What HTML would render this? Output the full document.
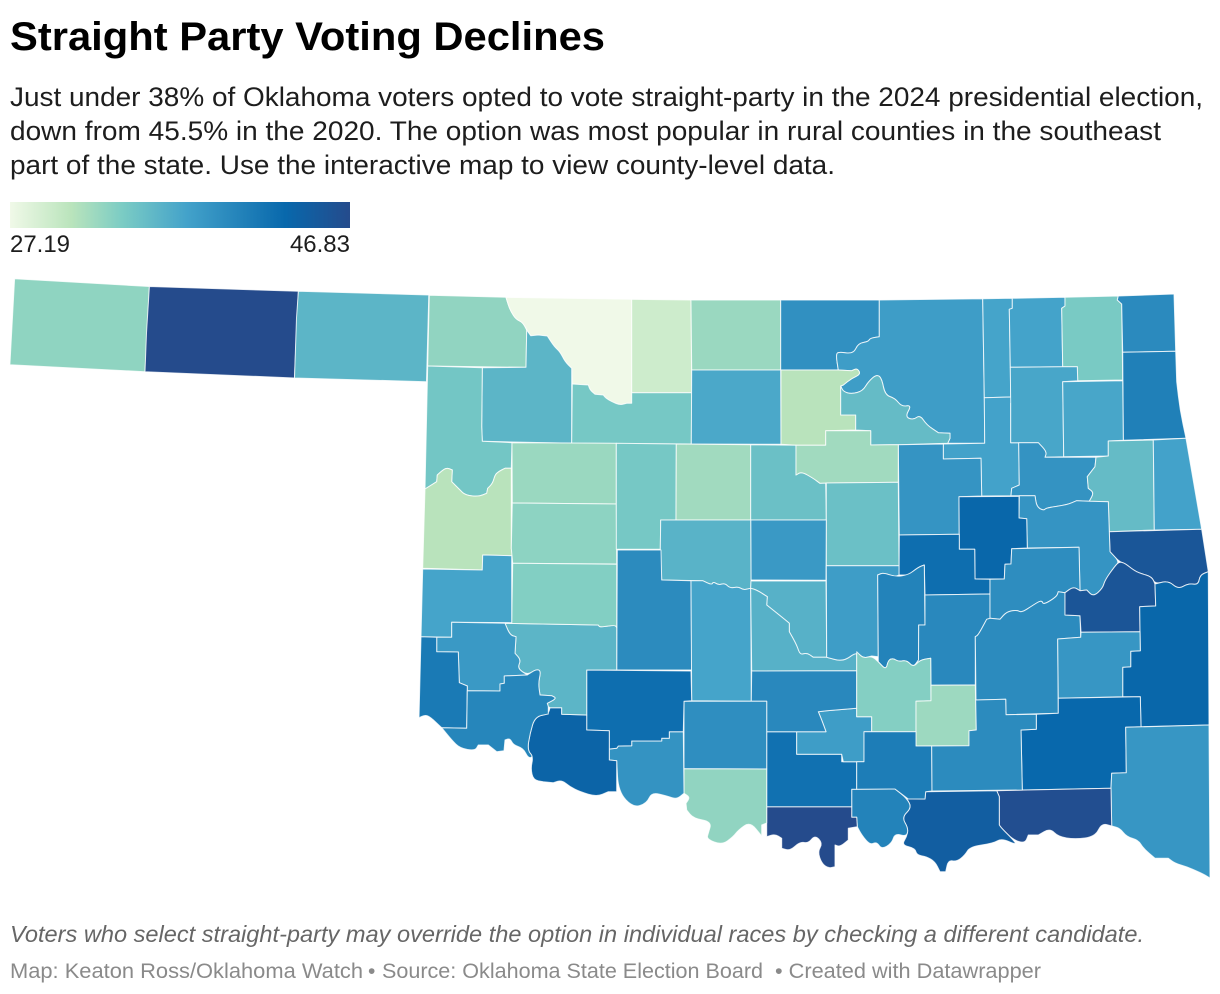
<!DOCTYPE html>
<html lang="en">
<head>
<meta charset="utf-8">
<title>Straight Party Voting Declines</title>
<style>
html,body{margin:0;padding:0;background:#fff;}
#chart{display:block;width:1220px;height:994px;font-family:"Liberation Sans",sans-serif;}
</style>
</head>
<body>
<svg id="chart" xmlns="http://www.w3.org/2000/svg" width="1220" height="994" viewBox="0 0 1220 994">
  <rect x="0" y="0" width="1220" height="994" fill="#ffffff"/>
  <text x="10" y="50" font-size="40" font-weight="700" fill="#000000" textLength="595" lengthAdjust="spacingAndGlyphs">Straight Party Voting Declines</text>
  <text x="10" y="106" font-size="26.5" fill="#1d1d1d" textLength="1193" lengthAdjust="spacingAndGlyphs">Just under 38% of Oklahoma voters opted to vote straight-party in the 2024 presidential election,</text>
  <text x="10" y="140" font-size="26.5" fill="#1d1d1d" textLength="1151" lengthAdjust="spacingAndGlyphs">down from 45.5% in the 2020. The option was most popular in rural counties in the southeast</text>
  <text x="10" y="174" font-size="26.5" fill="#1d1d1d" textLength="825" lengthAdjust="spacingAndGlyphs">part of the state. Use the interactive map to view county-level data.</text>

  <defs><linearGradient id="legend-gradient" x1="0" x2="1" y1="0" y2="0"></linearGradient></defs>
  <rect x="10" y="202" width="340" height="26" fill="url(#legend-gradient)"/>
  <text id="legend-min" x="10" y="252" font-size="24" fill="#1d1d1d" textLength="60" lengthAdjust="spacingAndGlyphs"></text>
  <text id="legend-max" x="350" y="252" font-size="24" fill="#1d1d1d" text-anchor="end"></text>

  <g id="counties"></g>

  <text x="10" y="942" font-size="23" font-style="italic" fill="#666666" textLength="1134" lengthAdjust="spacingAndGlyphs">Voters who select straight-party may override the option in individual races by checking a different candidate.</text>
  <text x="10" y="978" font-size="21" fill="#8a8a8a" textLength="353" lengthAdjust="spacingAndGlyphs">Map: Keaton Ross/Oklahoma Watch</text>
  <text x="368" y="978" font-size="21" fill="#8a8a8a">•</text>
  <text x="382" y="978" font-size="21" fill="#8a8a8a" textLength="381" lengthAdjust="spacingAndGlyphs">Source: Oklahoma State Election Board</text>
  <text x="775" y="978" font-size="21" fill="#8a8a8a" textLength="266" lengthAdjust="spacingAndGlyphs">• Created with Datawrapper</text>
</svg>
<script>
// --- Data ---
const countyNames = ["Cimarron","Texas","Beaver","Harper","Woods","Alfalfa","Grant","Kay","Osage","Washington","Nowata","Craig","Ottawa","Delaware","Woodward","Major","Garfield","Noble","Pawnee","Tulsa","Rogers","Mayes","Wagoner","Cherokee","Adair","Sequoyah","Muskogee","Creek","Okmulgee","Okfuskee","Ellis","Roger Mills","Dewey","Custer","Blaine","Kingfisher","Logan","Payne","Lincoln","Oklahoma","Canadian","Caddo","Grady","Cleveland","McClain","Pottawatomie","Seminole","Hughes","McIntosh","Pittsburg","Haskell","Le Flore","Latimer","Pushmataha","McCurtain","Choctaw","Bryan","Marshall","Love","Carter","Murray","Garvin","Stephens","Jefferson","Cotton","Comanche","Tillman","Kiowa","Washita","Beckham","Greer","Harmon","Jackson","Pontotoc","Coal","Johnston","Atoka"];
const straightPartyPct = [32.74,46.83,35.72,32.66,27.19,29.45,32.21,39.18,37.88,37.24,37.33,33.82,39.76,40.78,35.72,34.01,36.86,30.79,35.15,37.44,37.05,37.05,38.89,35.15,37.44,45.38,38.75,38.75,43.29,42.52,34.2,30.79,32.21,32.81,34.01,31.91,34.77,31.91,34.77,38.31,35.91,39.62,37.24,36.1,36.1,37.88,40.49,39.91,39.47,39.62,45.5,43.29,38.6,43.09,38.6,46.42,44.43,40.49,46.83,42.23,37.88,39.91,39.33,32.66,38.89,42.52,43.67,35.72,33.34,37.24,38.31,41.36,40.2,33.26,32.06,41.07,39.62];
const legendTickValues = [27.19, 46.83];
const rampColors = ["#f0f9e8","#bae4bc","#7bccc4","#43a2ca","#0868ac","#254b8c"];
const rampPositions = [0, 0.18, 0.33, 0.52, 0.81, 1];

// County outlines (map geometry), same order as countyNames
const countyOutlines = [
"14.6,278.7 149.4,286.5 145,371.7 9.9,364.7",
"149.4,286.5 298.4,291.3 297,318 294.5,378 145,371.7 146.5,333",
"298.4,291.3 428.8,295 426.5,381.7 294.5,378 296.5,318",
"429.3,295.3 506,297.3 508.3,305 511,311.7 516,319.3 522.7,322.3 526.7,330 526,367.3 427.7,366",
"506,297.3 631.7,299.3 631.7,403.3 626.7,403.3 620,405 611.7,401.7 606,398.3 603.3,395 595,394.3 590,390 588.3,385 572.3,384 571.7,368.3 565,361.7 560,351.7 554.3,346.7 547.3,336 538.3,335 530.7,335.7 526.7,330 522.7,322.3 516,319.3 511,311.7 508.3,305",
"631.7,299.3 691,300 691.7,392.7 631.7,392.7",
"691,300 780.7,300 780.7,370 691.7,370",
"780.7,300 879.3,300 879.3,336.7 870,338.3 868.3,341.7 858.3,343.3 853.3,354 838.3,351.7 836,355 838.3,370 780.7,370",
"879.3,300 982.7,298.7 984.3,397.7 984.7,443.3 947.7,443.3 950,438.3 950,433.3 938.3,432.7 926.7,425 920,415 913.3,420 905,416.7 911.7,405 901.7,406.7 895,398.3 885,395 881.7,378.3 876.7,374.3 868.3,381.7 862.7,391 851.7,394 843.3,391.7 840.7,386 843.3,385 851.7,378.3 860.7,374.3 857.3,368.3 851.7,370.7 838.3,370 836,355 838.3,351.7 853.3,354 858.3,343.3 868.3,341.7 870,338.3 879.3,336.7",
"982.7,298.7 1012.3,298.3 1012.3,308.3 1009.3,309.3 1010.3,367.3 1010.7,397 984.3,397.7",
"1012.3,298.3 1065,297.3 1065,306 1061.7,308.3 1062.7,366.7 1010.3,367.3 1009.3,309.3 1012.3,308.3",
"1065,297.3 1118.3,296 1117.3,300 1121.7,304 1122.7,380 1077.7,380.7 1077.3,366.7 1062.7,366.7 1061.7,308.3 1065,306",
"1118.3,296 1174,294 1175.7,351.3 1122.7,352.3 1121.7,304 1117.3,300",
"1122.7,352.3 1175.7,351.3 1176.7,381.7 1180,410 1186,438.3 1123.3,440.3",
"526,367.3 526.7,330 530.7,335.7 538.3,335 547.3,336 554.3,346.7 560,351.7 565,361.7 571.7,368.3 571.7,443.3 482.3,441.3 481.7,426.7 482.3,367.7",
"572.3,384 588.3,385 590,390 595,394.3 603.3,395 606,398.3 611.7,401.7 620,405 626.7,403.3 631.7,403.3 631.7,392.7 691.7,392.7 691.3,444 571.7,443.3",
"691.7,370 780.7,370 781,444.3 691.3,444",
"781,370 838.3,370 851.7,370.7 857.3,368.3 860.7,374.3 851.7,378.3 843.3,385 840.7,386 840.7,415 855.7,415 855.7,430 825.7,430.7 825.7,445.3 796,445.3 781,444.3",
"840.7,386 843.3,391.7 851.7,394 862.7,391 868.3,381.7 876.7,374.3 881.7,378.3 885,395 895,398.3 901.7,406.7 911.7,405 905,416.7 913.3,420 920,415 926.7,425 938.3,432.7 950,433.3 950,438.3 947.7,443.3 898.3,444.7 870.7,445 870.7,430.7 855.7,430 855.7,415 840.7,415",
"984.3,397.7 1010.7,397 1013,398.3 1013,402 1010.7,403.3 1010.7,442.7 1018.7,442.7 1019.3,485 1011.7,488.3 1011,495.7 981.7,496 981,458.3 943.3,459 943.3,444 984.7,443.3",
"1010.3,367.3 1062.7,366.7 1077.3,366.7 1077.7,380.7 1062.7,381.7 1063.7,456.7 1045,457.3 1046.7,451.7 1038.3,442.7 1010.7,442.7 1010.7,403.3",
"1062.7,381.7 1122.7,380.7 1123.3,440.3 1108.3,441 1108.3,456 1063.7,456.7",
"1018.7,442.7 1038.3,442.7 1046.7,451.7 1045,457.3 1096,457.3 1095,466.7 1087.3,476.7 1088.3,488.3 1094,492.7 1089.3,501.3 1076.7,500.7 1066.7,505 1046.7,507.7 1043.3,510.7 1036.7,506.7 1035,495.7 1011,495.7 1011.7,488.3 1019.3,485",
"1108.3,441 1153.3,440 1154.3,530 1109.3,531.7 1108.3,501.7 1089.3,501.3 1094,492.7 1088.3,488.3 1087.3,476.7 1095,466.7 1096,457.3 1108.3,456",
"1153.3,440 1186,438.3 1201.7,529.3 1154.3,530",
"1109.3,531.7 1201.7,529.3 1208.3,571.7 1200,575 1198.3,585 1188.3,583.3 1178.3,589.3 1168.3,580.7 1155,584 1151.7,576.7 1140,573.3 1133.3,570 1125,563.3 1119.3,561.7 1110,551.7",
"1019.3,495.7 1035,495.7 1036.7,506.7 1043.3,510.7 1046.7,507.7 1066.7,505 1076.7,500.7 1089.3,501.3 1108.3,501.7 1109.3,531.7 1110,551.7 1119.3,561.7 1115,566 1105,580 1102.7,588.3 1093.3,596.7 1086.7,590 1080,590.7 1079,547.3 1027.3,548 1026.7,518.7 1019,518",
"898.3,444.7 943.3,444 943.3,459 981,458.3 981.7,496 959,496.7 959.3,534.3 899.3,535",
"959,496.7 1019,496.3 1019,518 1026.7,518.7 1027.3,548 1011.7,548.7 1011,564 1005,564.3 1004.3,579 975,579 974.7,549.3 959.3,549.3",
"899.3,535 959.3,534.3 959.3,549.3 974.7,549.3 975,579 990,579.3 990,594 925,595 924.3,565 918.3,567.3 908.3,575 899,575",
"427.7,366 482.3,367.7 481.7,426.7 482.3,441.3 512,442.7 511.3,468.3 505,468.3 498.3,471.7 495,475 492.7,483.3 487.7,488.3 486.7,493.3 478.3,496.7 465,495 460,490 451.7,481.7 452.3,470 446.7,467.7 441.7,471 437.3,475 436.7,481.7 425,489",
"425,489 436.7,481.7 437.3,475 441.7,471 446.7,467.7 452.3,470 451.7,481.7 460,490 465,495 478.3,496.7 486.7,493.3 487.7,488.3 492.7,483.3 495,475 498.3,471.7 505,468.3 511.3,468.3 511.3,548.3 512.3,555.7 482.7,555 482.3,570 422.7,568.3",
"512,442.7 616.3,443.3 616.3,504 512.3,503",
"512.3,503 616.3,504 616.7,564 512.7,563.3 511.3,548.3",
"616.3,443.3 676.3,444 676,520 660.7,520 660.3,549.3 616.3,549.3",
"676.3,444 750.7,444.7 750.7,520 676,520",
"750.7,444.7 796,445.3 796,475 801.7,471.7 813.3,478.3 820,483.3 825.7,483 826.3,520 750.7,520",
"796,445.3 825.7,445.3 825.7,430.7 870.7,430.7 870.7,445 898.3,444.7 898.3,482.3 825.7,483 820,483.3 813.3,478.3 801.7,471.7 796,475",
"826.3,483 898.3,482.3 899,565.7 826.3,565.7",
"750.7,520 826.3,520 826,580.3 751,580",
"660.7,520 750.7,520 751,580 750.7,588.3 743.3,590 738.3,586.7 730,588.3 725,583.3 718.3,585 713.3,581.7 711.7,585 702.7,580.7 661.7,580 660.3,549.3",
"617.3,550 661,550 661.7,580 691,580.7 691.7,670 616.7,670",
"691,580.7 702.7,580.7 711.7,585 713.3,581.7 718.3,585 725,583.3 730,588.3 738.3,586.7 743.3,590 750.7,588.3 751.3,701.3 691.7,700.7",
"751,581 826,581 826.7,657.3 813.3,657.3 806.7,652.7 800,655 796.7,645 789.3,631.7 789.3,623.3 783.3,618.3 766.7,605 767.3,596.7 756.7,590 750.7,588.3",
"750.7,588.3 756.7,590 767.3,596.7 766.7,605 783.3,618.3 789.3,623.3 789.3,631.7 796.7,645 800,655 806.7,652.7 813.3,657.3 826.7,657.3 843.3,661.7 856.7,651.7 856.7,670.7 751.7,671",
"826.3,565.7 899,565.7 899,575 895,576.7 883.3,572.7 877.7,575 878.3,656.7 871.7,656 863.3,658.3 856.7,651.7 843.3,661.7 826.7,657.3",
"877.7,575 883.3,572.7 895,576.7 908.3,575 918.3,567.3 924.3,565 925,625 918.7,625 918.5,660 913.3,667.3 906.7,660 898.3,661.7 893.3,658.3 888.3,660 886,670 878.3,661.7",
"925,595 990,594 990,618.3 986.7,619.3 978.3,635 975.3,636.7 975.3,685 931,685.3 930.7,658.3 920,660 913.3,667.3 918.5,660 918.7,625 925,625",
"990,579.3 1004.3,579 1005,564.3 1011,564 1011.7,548.7 1079,547.3 1080,590.7 1073.3,586.7 1065,592.7 1058.3,591.7 1056.7,596.7 1043.3,605 1041.7,600 1033.3,605 1021.7,612.7 1016.7,610 1006.7,611.7 1000,619.3 990,618.3",
"975.3,636.7 978.3,635 986.7,619.3 990,618.3 1000,619.3 1006.7,611.7 1016.7,610 1021.7,612.7 1033.3,605 1041.7,600 1043.3,605 1056.7,596.7 1058.3,591.7 1065,592.7 1065,615 1080,615.7 1080.7,637.3 1057.7,639 1058.3,713.3 1006,714.7 1005.7,699.3 976,700",
"1065,592.7 1073.3,586.7 1080,590.7 1086.7,590 1093.3,596.7 1102.7,588.3 1105,580 1115,566 1119.3,561.7 1125,563.3 1133.3,570 1140,573.3 1151.7,576.7 1155,584 1155.7,606 1139.7,606.7 1140,631.7 1081,632.3 1080,615.7 1065,615",
"1155,584 1168.3,580.7 1178.3,589.3 1188.3,583.3 1198.3,585 1200,575 1208.3,571.7 1209,725 1141,726.7 1140.3,696.7 1122.7,696.7 1122.7,667.3 1130.7,666.7 1130.7,651.3 1140.3,650.7 1139.7,606.7 1155.7,606",
"1081,632.3 1140,631.7 1140.3,650.7 1130.7,651.3 1130.7,666.7 1122.7,667.3 1122.7,696.7 1058.3,698.3 1057.7,639 1080.7,637.3",
"1058.3,698.3 1140.3,696.7 1141,726.7 1125.7,727.3 1126.3,772.7 1111.7,773.3 1111,788.3 1022.3,790 1021,730 1036.3,729.3 1036.3,714.3 1058.3,713.3",
"1125.7,727.3 1209,725 1210,878 1205,875 1198.3,871.7 1186.7,866.7 1175,863.3 1168.3,858.3 1155,858.3 1143.3,848.3 1138.3,840 1126.7,836.7 1120,828.3 1111.7,826 1111,788.3 1111.7,773.3 1126.3,772.7",
"996.7,790.7 1111,788.3 1111.7,826 1101.7,823.3 1095,836.7 1075,839.3 1058.3,836.7 1050,828.3 1038.3,835 1028.3,835 1025,843.3 1013.3,840 1001.7,828.3 999.3,825 999.3,796.7",
"925.7,791.7 996.7,790.7 999.3,796.7 999.3,825 1001.7,828.3 1013.3,840 1016.7,845 1001.7,838.3 993.3,843.3 970,846.7 965,855 956.7,861.7 948.3,860 945.7,871.7 940,871.7 935,861.7 926.7,856.7 916.7,855 915,848.3 901.7,845 906.7,836.7 908.3,828.3 901.7,817.3 911.7,807.7 906.7,798.3 925,799",
"851.7,789.3 895,789 906.7,798.3 911.7,807.7 901.7,817.3 908.3,828.3 906.7,836.7 895,833.3 891.7,843.3 881.7,849.3 876.7,841.7 870,845 861.7,835 857.3,826.7 856.7,817.3 851.7,817.3",
"766.7,806.7 851.7,806.7 851.7,817.3 856.7,817.3 857.3,826.7 848.3,828.3 848.3,840 840,846.7 835,845 835,853 835,866.7 828.3,868.3 821.7,863.3 817.7,851.7 822.7,843.3 815,835 808.3,843.3 800,841.7 790,850.7 781.7,848.3 781.7,838.3 775,834 766.7,836.7",
"766.7,731.7 796.7,731.7 796.7,754.3 841.7,754.3 841.7,761.7 856.7,761.7 856.7,789.3 851.7,789.3 851.7,806.7 766.7,806.7",
"818.3,711.7 826.7,710.7 856.7,708.3 856.7,716.7 871.7,716.7 871.7,731.7 864,731.7 864,761.7 843.3,761.7 841.7,754.3 796.7,754.3 796.7,731.7 826,731.7 821.7,720",
"751.7,671 856.7,670.7 856.7,708.3 826.7,710.7 818.3,711.7 821.7,720 826,731.7 766.7,731.7 766.7,701.3 751.3,701.3",
"684,701.3 766.7,701.3 766.7,769 684,768.7",
"684,768.7 766.7,769 766.7,823 761.7,825 761.7,836 750,821.7 738.3,830 733.3,836.7 721.7,845 706.7,839 708.3,833.3 711.7,821.7 693.3,818.3 686.7,810 686,803.3 690,797.3 684,793.3",
"683.3,731.7 684,793.3 676.7,799.3 666.7,796 651.7,792.3 646.7,803.3 633.3,807.7 618.3,791.7 616.7,760.7 609.3,760 609.3,749 616.7,748.3 618.3,746 631.7,745.7 631.7,741 661.7,741 661.7,738.3 669.3,738.3 669.3,731.7",
"586.7,670 691,671 691.7,700.7 684,701.3 683.3,731.7 669.3,731.7 669.3,738.3 661.7,738.3 661.7,741 631.7,741 631.7,745.7 618.3,746 616.7,748.3 609.3,749 609.3,730.7 586.7,730",
"550,707.7 561.7,707.7 561.7,714.3 586.7,715 586.7,730 609.3,730.7 609.3,760 616.7,760.7 616.7,791.7 608.3,791.7 596.7,796.7 580,791.7 570,786.7 561.7,780 553.3,782.7 543.3,781.7 533.3,780 530.7,768.3 533.3,756.7 527.3,750 530,733.3 535,716.7 548.3,714",
"505,623.3 598.3,625 600,627.3 615,625 616.7,627.3 616.7,670 586.7,670 586.7,715 561.7,714.3 561.7,707.7 550,707.7 548.3,706.7 547.3,703.3 556.7,698.3 551.7,695.7 540,695 538.3,683.3 541,670.7 536,669.3 527.3,675 517.3,668.3 521,660 515,653.3 516,636.7 510,635",
"512.7,563.3 616.7,564.3 616.7,627.3 615,625 600,627.3 598.3,625 505,623.3 511.7,622.7",
"422.7,569 482.3,570 482.7,555 511.7,555.7 511.7,622.7 451.7,622.3 451.7,637.3 421,636.7",
"451.7,622.3 505,623.3 510,635 516,636.7 515,653.3 521,660 517.3,668.3 527.3,675 504.3,676 504.3,683.3 500,684 500,691 467.3,690.7 467.3,686 459.3,682.7 458.3,652 436.7,651.7 436.7,637.3 451.7,637.3",
"421,636.7 436.7,637.3 436.7,651.7 458.3,652 459.3,682.7 467.3,686 466.7,728.3 441.7,727.7 430,716.7 425,715 419,717.7",
"467.3,690.7 500,691 500,684 504.3,683.3 504.3,676 527.3,675 536,669.3 541,670.7 538.3,683.3 540,695 551.7,695.7 556.7,698.3 547.3,703.3 548.3,706.7 548.3,714 535,716.7 530,733.3 527.3,750 533.3,756.7 528.3,758.3 523.3,748.3 513.3,745 510,738.3 505,740 504,750.7 496.7,751.7 488.3,745 478.3,745 475,750.7 460,748.3 451.7,740 441.7,727.7 466.7,728.3",
"856.7,651.7 863.3,658.3 871.7,656 878.3,661.7 886,670 888.3,660 893.3,658.3 898.3,661.7 906.7,660 913.3,667.3 920,660 930.7,658.3 931,700.7 916,701.3 916,731.7 871.7,731.7 871.7,716.7 856.7,716.7",
"931,685.3 975.3,685 976.3,730 969,730.7 969,745.7 916,746 916,701.3 931,700.7",
"864,731.7 916,731.7 916,746 931.7,746 932,791 925.7,791.7 925,799 908.3,799 895,789 856.7,789.3 856.7,761.7 864,761.7",
"975.7,700 1005.7,699.3 1006,714.7 1036.3,714.3 1036.3,729.3 1021,730 1022.3,790 932,791 931.7,746 969,745.7 969,730.7 976.3,730"
];

// --- Scales ---
const domainMin = legendTickValues[0];
const domainMax = legendTickValues[legendTickValues.length - 1];
function hexToRgb(hex) {
  return [1, 3, 5].map(function (i) { return parseInt(hex.slice(i, i + 2), 16); });
}
function colorScale(value) {
  const t = Math.max(0, Math.min(1, (value - domainMin) / (domainMax - domainMin)));
  let i = 0;
  while (i < rampPositions.length - 2 && t > rampPositions[i + 1]) i++;
  const f = (t - rampPositions[i]) / (rampPositions[i + 1] - rampPositions[i]);
  const a = hexToRgb(rampColors[i]);
  const b = hexToRgb(rampColors[i + 1]);
  return "rgb(" + a.map(function (c, k) { return Math.round(c + (b[k] - c) * f); }).join(",") + ")";
}

// Rounds winding river vertices; stair-step survey corners and long straight edges stay sharp
function outlineToPath(outline) {
  const pts = outline.trim().split(/\s+/).map(function (p) { return p.split(",").map(Number); });
  const n = pts.length;
  function winding(a, b) {
    const dx = Math.abs(a[0] - b[0]);
    const dy = Math.abs(a[1] - b[1]);
    return dx > 1.2 && dy > 1.2 && Math.hypot(dx, dy) < 35;
  }
  function mid(a, b) { return [(a[0] + b[0]) / 2, (a[1] + b[1]) / 2]; }
  let d = "";
  pts.forEach(function (v, i) {
    const prev = pts[(i - 1 + n) % n];
    const next = pts[(i + 1) % n];
    const cmd = i === 0 ? "M" : "L";
    if (winding(prev, v) && winding(v, next)) {
      const m1 = mid(prev, v);
      const m2 = mid(v, next);
      d += cmd + m1[0] + " " + m1[1] + "Q" + v[0] + " " + v[1] + " " + m2[0] + " " + m2[1];
    } else {
      d += cmd + v[0] + " " + v[1];
    }
  });
  return d + "Z";
}

// --- Draw ---
const NS = "http://www.w3.org/2000/svg";
const gradient = document.getElementById("legend-gradient");
rampColors.forEach(function (color, i) {
  const stop = document.createElementNS(NS, "stop");
  stop.setAttribute("offset", rampPositions[i]);
  stop.setAttribute("stop-color", color);
  gradient.appendChild(stop);
});
document.getElementById("legend-min").textContent = legendTickValues[0].toFixed(2);
document.getElementById("legend-max").textContent = legendTickValues[1].toFixed(2);

const group = document.getElementById("counties");
countyNames.forEach(function (name, i) {
  const el = document.createElementNS(NS, "path");
  
  
  el.setAttribute("d", outlineToPath(countyOutlines[i]));
  el.setAttribute("fill", colorScale(straightPartyPct[i]));
  el.setAttribute("stroke", "#ffffff");
  el.setAttribute("stroke-opacity", "0.8");
  el.setAttribute("stroke-width", "1");
  el.setAttribute("stroke-linejoin", "round");
  group.appendChild(el);
});
</script>
</body>
</html>
